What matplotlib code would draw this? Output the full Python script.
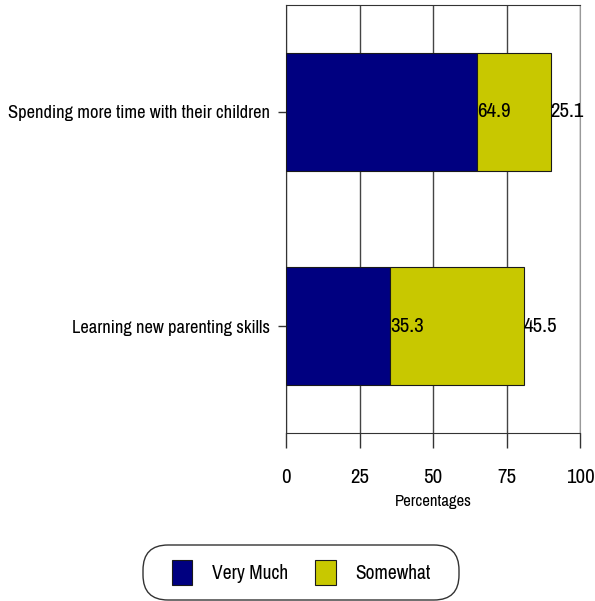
import matplotlib.pyplot as plt
from matplotlib.patches import FancyBboxPatch
import numpy as np

plt.rcParams['font.family'] = ['Archivo Narrow', 'DejaVu Sans']

categories = ['Learning new parenting skills', 'Spending more time with their children']
very_much = [35.3, 64.9]
somewhat = [45.5, 25.1]
xticks = [0, 25, 50, 75, 100]

navy = '#000080'
olive = '#c8c800'

fig = plt.figure(figsize=(5.95, 6.01), dpi=100)
ax = fig.add_axes([0.4807, 0.2795, 0.4941, 0.7122])

y = np.arange(1, len(categories) + 1)
h = 0.55
ax.barh(y, very_much, height=h, color=navy, edgecolor='#1a1a1a', linewidth=0.8, zorder=3, label='Very Much')
ax.barh(y, somewhat, left=very_much, height=h, color=olive, edgecolor='#1a1a1a', linewidth=0.8, zorder=3, label='Somewhat')

# value labels at the end of each segment
for yi, v, s in zip(y, very_much, somewhat):
    ax.text(v, yi, f'{v}', ha='left', va='center', fontsize=15, zorder=4)
    ax.text(v + s, yi, f'{s}', ha='left', va='center', fontsize=15, zorder=4)

ax.set_xlim(0, 100)
ax.set_ylim(0.5, 2.5)
ax.set_xticks(xticks)
ax.set_xticklabels([str(t) for t in xticks], fontsize=15)
ax.set_yticks(y)
ax.set_yticklabels(categories, fontsize=13.3)
ax.tick_params(axis='x', length=11, width=1, pad=14, color='#333333')
ax.tick_params(axis='y', length=6, width=1, pad=5.8, color='#333333')
ax.set_xlabel('Percentages', fontsize=12, labelpad=5)

ax.grid(axis='x', color='#444444', linewidth=1, zorder=0)
for side in ['left', 'top', 'bottom']:
    ax.spines[side].set_color('#333333')
ax.spines['right'].set_color('#999999')

# legend with a rounded frame drawn separately
leg = fig.legend(loc='center', bbox_to_anchor=(0.506, 0.0474), ncol=2, fontsize=14,
                 frameon=False, handlelength=1.05, handleheight=1.6,
                 handletextpad=1.0, columnspacing=1.4, borderpad=0, borderaxespad=0)
box = FancyBboxPatch((1.43, 0.01), 3.16, 0.55, boxstyle='round,pad=0,rounding_size=0.25',
                     transform=fig.dpi_scale_trans, facecolor='white', edgecolor='#333333',
                     linewidth=1, zorder=0)
fig.patches.append(box)

fig.savefig('out.png', dpi=100)
